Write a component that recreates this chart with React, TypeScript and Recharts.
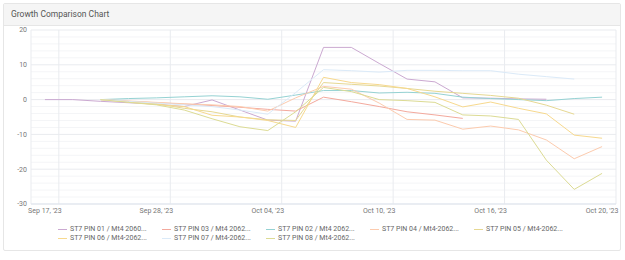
import { LineChart, Line, XAxis, YAxis, CartesianGrid } from 'recharts';

// category dates (only every 4th one is labelled)
const dates = [
  "Sep 17, '23", "Sep 19, '23", "Sep 22, '23", "Sep 25, '23", "Sep 28, '23",
  "Sep 29, '23", "Sep 30, '23", "Oct 02, '23", "Oct 04, '23", "Oct 05, '23",
  "Oct 06, '23", "Oct 08, '23", "Oct 10, '23", "Oct 11, '23", "Oct 12, '23",
  "Oct 14, '23", "Oct 16, '23", "Oct 17, '23", "Oct 18, '23", "Oct 19, '23",
  "Oct 20, '23",
];

const pin01 = [0, 0, -0.5, -0.9, -1.3, -2.0, -0.1, -3.0, -5.9, -6.2, 15.0, 15.0, 10.4, 5.9, 5.1, 0.5, 0.4, 0.2, 0.1, null, null];
const pin03 = [null, null, 0, -0.5, -0.9, -1.3, -1.7, -2.2, -2.8, -3.3, 0.7, -0.6, -2.0, -3.5, -4.4, -5.4, null, null, null, null, null];
const pin02 = [null, null, 0, 0.3, 0.5, 0.8, 1.1, 0.8, 0.1, 1.3, 2.6, 2.6, 1.9, 2.1, 1.8, 0.7, 0.3, 0.0, -0.3, 0.3, 0.7];
const pin04 = [null, null, 0, -0.4, -0.8, -1.2, -1.5, -2.0, -3.3, 0.5, 3.8, 3.0, -1.0, -5.7, -5.9, -8.5, -7.6, -8.7, -11.6, -17.0, -13.5];
const pin05 = [null, null, 0, -0.6, -1.2, -2.5, -3.5, -5.0, -5.8, -6.0, 4.9, 4.4, 3.9, 3.2, 2.4, 1.8, 1.2, 0.4, -1.6, -4.2, null];
const pin06 = [null, null, 0, -0.7, -1.4, -2.0, -4.5, -5.0, -6.0, -8.0, 6.4, 4.9, 4.3, 3.2, 0.8, -2.1, -0.7, -2.5, -4.1, -10.2, -11.1];
const pin07 = [null, null, 0, -0.5, -1.0, -1.5, -2.0, -3.0, -4.2, 2.0, 8.6, 8.3, 7.9, 8.4, 8.4, 8.3, 8.3, 7.3, 6.6, 5.9, null];
const pin08 = [null, null, 0, -0.8, -1.5, -3.0, -5.5, -7.8, -8.9, -3.5, 3.5, 2.3, 0.0, -0.3, -0.8, -4.4, -4.7, -5.7, -17.4, -25.8, -21.2];

const series = [
  { key: 'pin01', name: 'ST7 PIN 01 / Mt4 2060...', color: '#cba9d1', values: pin01 },
  { key: 'pin03', name: 'ST7 PIN 03 / Mt4 2062...', color: '#f3a99d', values: pin03 },
  { key: 'pin02', name: 'ST7 PIN 02 / Mt4 2062...', color: '#95d2d3', values: pin02 },
  { key: 'pin04', name: 'ST7 PIN 04 / Mt4-2062...', color: '#fccbae', values: pin04 },
  { key: 'pin05', name: 'ST7 PIN 05 / Mt4-2062...', color: '#e6d892', values: pin05 },
  { key: 'pin06', name: 'ST7 PIN 06 / Mt4-2062...', color: '#f7d98e', values: pin06 },
  { key: 'pin07', name: 'ST7 PIN 07 / Mt4-2062...', color: '#dbeaf8', values: pin07 },
  { key: 'pin08', name: 'ST7 PIN 08 / Mt4-2062...', color: '#dcdb94', values: pin08 },
];

const xTicks = [0, 4, 8, 12, 16, 20];
const yTicks = [-30, -20, -10, 0, 10, 20];
const minorY = [-28, -26, -24, -22, -18, -16, -14, -12, -8, -6, -4, -2, 2, 4, 6, 8, 12, 14, 16, 18];
const gridX = [-0.5, 0.5, 4.5, 8.5, 12.5, 16.5, 20.5];

const data = dates.map((d, i) => {
  const row: Record<string, any> = { i, date: d };
  series.forEach((s) => (row[s.key] = s.values[i]));
  return row;
});

const font = 'Roboto, "Noto Sans", sans-serif';

export default function App() {
  return (
    <div style={{ position: 'absolute', left: 0, top: 0, width: 625, height: 260, background: '#fff', fontFamily: font }}>
      <div
        style={{
          position: 'absolute', left: 3, top: 3, width: 616, height: 246,
          border: '1px solid #e6e6e6', borderRadius: 2,
        }}
      >
        <div
          style={{
            height: 21, background: '#f5f5f5', borderBottom: '1px solid #e6e6e6',
            fontSize: 8.5, fontWeight: 400, color: '#555', lineHeight: '21px', paddingLeft: 7,
          }}
        >
          Growth Comparison Chart
        </div>
      </div>
      <div style={{ position: 'absolute', left: 0, top: 0 }}>
        <LineChart width={625} height={220} data={data} margin={{ top: 30, right: 9, bottom: 0, left: 0 }}>
          <CartesianGrid stroke="#f4f5f7" horizontalValues={minorY} vertical={false} />
          <CartesianGrid stroke="#e9ebef" horizontalValues={yTicks} verticalValues={gridX} />
          <XAxis
            dataKey="i"
            type="number"
            domain={[-0.5, 20.5]}
            ticks={xTicks}
            tickFormatter={(v) => dates[v]}
            height={16}
            axisLine={{ stroke: '#dfe5ee' }}
            tickLine={false}
            tickSize={3}
            tickMargin={1}
            tick={{ fontSize: 7, fill: '#777', fontFamily: font }}
            interval={0}
          />
          <YAxis
            domain={[-30, 20]}
            ticks={yTicks}
            width={31}
            axisLine={false}
            tickLine={false}
            tickSize={2}
            tickMargin={2}
            tick={{ fontSize: 7, fill: '#777', fontFamily: font }}
            interval={0}
          />
          {series.map((s) => (
            <Line
              key={s.key}
              dataKey={s.key}
              name={s.name}
              stroke={s.color}
              strokeWidth={1}
              dot={false}
              type="linear"
              isAnimationActive={false}
            />
          ))}
        </LineChart>
      </div>
      <div
        style={{
          position: 'absolute', left: 58, top: 225, width: 520,
          display: 'flex', flexWrap: 'wrap', fontSize: 7, color: '#666', lineHeight: '9px',
        }}
      >
        {series.map((s) => (
          <div key={s.key} style={{ width: 104, display: 'flex', alignItems: 'center', whiteSpace: 'nowrap' }}>
            <span style={{ display: 'inline-block', width: 9, height: 1, background: s.color, marginRight: 3 }} />
            {s.name}
          </div>
        ))}
      </div>
    </div>
  );
}
